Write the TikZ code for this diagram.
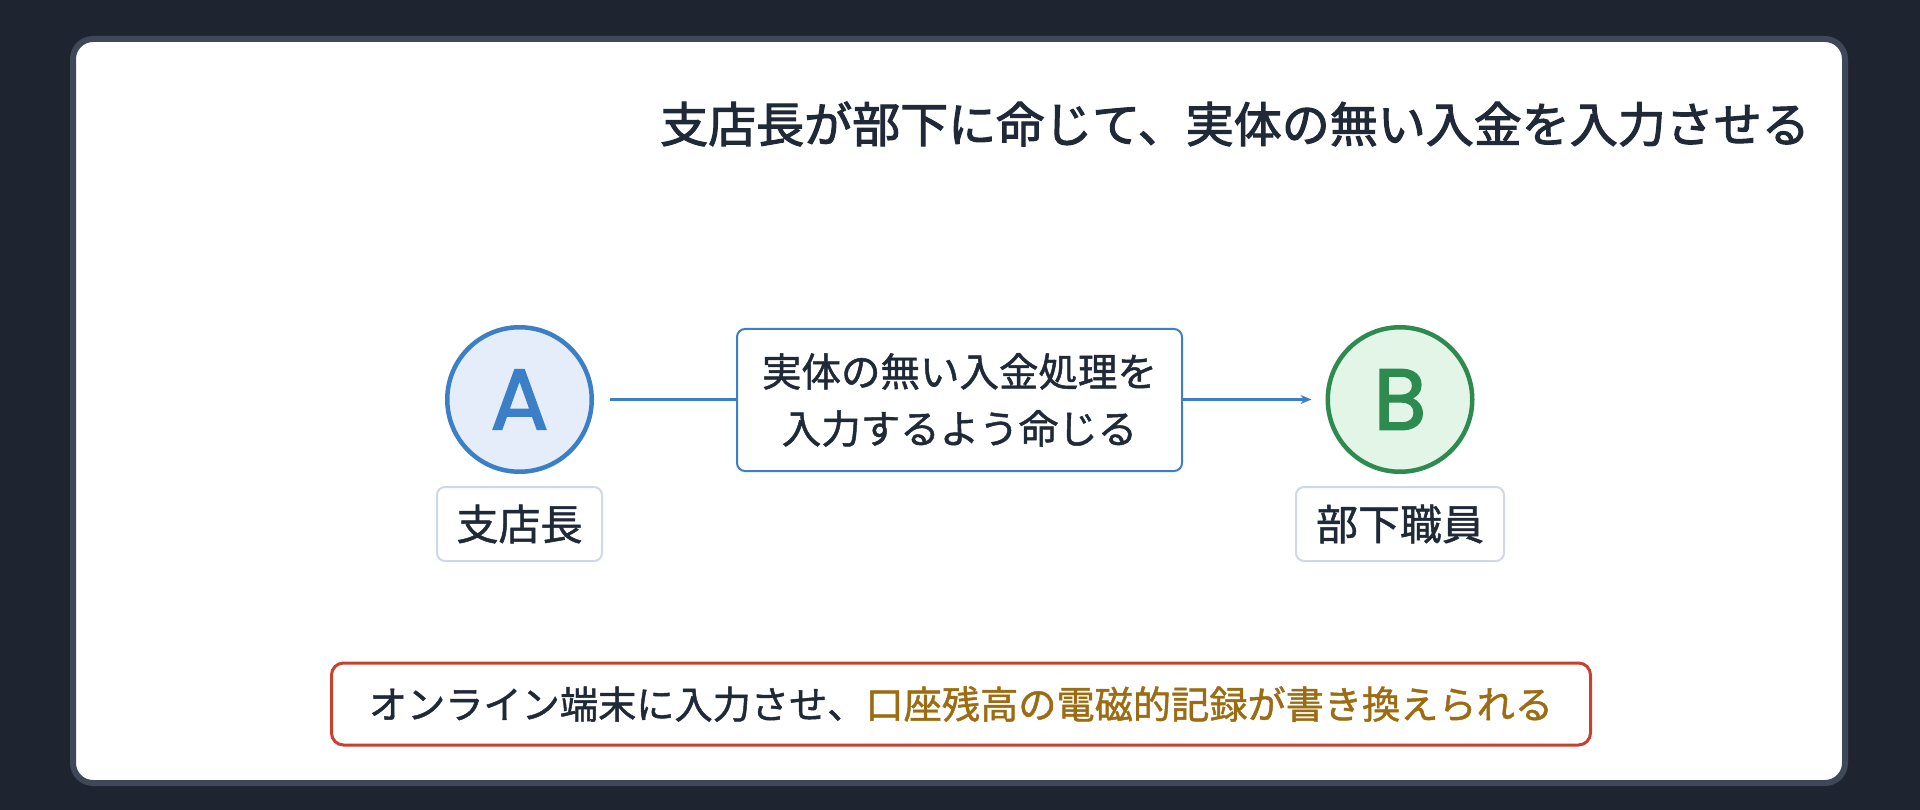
\documentclass[tikz,border=0pt]{standalone}
\usepackage{fontspec}
\setmainfont{Noto Sans CJK JP}[FakeBold=1]
\newfontfamily\jpmid{Noto Sans CJK JP}[FakeBold=1.2]
\newfontfamily\jptitle{Noto Sans CJK JP}[FakeBold=2.2]
\newfontfamily\letterfont{Poppins}[FakeBold=2]
\usetikzlibrary{arrows.meta}
\definecolor{bgdark}{HTML}{1E2430}
\definecolor{cardedge}{HTML}{3E4858}
\definecolor{ink}{HTML}{1F2937}
\definecolor{ablue}{HTML}{3B80C6}
\definecolor{afill}{HTML}{E4EDF9}
\definecolor{bgreen}{HTML}{2E8B50}
\definecolor{bfill}{HTML}{E3F5E7}
\definecolor{lbledge}{HTML}{CFD8E3}
\definecolor{noteedge}{HTML}{C9402C}
\definecolor{brown}{HTML}{9C6C12}
\tikzset{
  person/.style={circle,line width=4.5pt,minimum size=144.5pt,inner sep=0pt,font=\letterfont\fontsize{86}{86}\selectfont},
  namebox/.style={draw=lbledge,line width=2pt,fill=white,rounded corners=8pt,minimum height=74pt,inner sep=0pt,font=\jpmid\fontsize{42}{42}\selectfont,text=ink},
  msgbox/.style={draw=ablue,line width=2pt,fill=white,rounded corners=8pt,minimum width=445pt,minimum height=142pt,inner sep=0pt,align=center,font=\jpmid\fontsize{39.5}{57}\selectfont,text=ink},
  notebox/.style={draw=noteedge,line width=3pt,fill=white,rounded corners=12pt,minimum width=1259pt,minimum height=82pt,inner sep=0pt,font=\jpmid\fontsize{38.2}{38.2}\selectfont,text=ink},
  arr/.style={draw=ablue,line width=3pt,-{Stealth[length=11pt,width=9pt]}}
}
\begin{document}
\begin{tikzpicture}[x=1pt,y=-1pt]
\useasboundingbox (0,0) rectangle (1920,810);
\fill[bgdark] (0,0) rectangle (1920,810);
\node[draw=cardedge,fill=white,line width=6pt,rounded corners=20pt,minimum width=1772pt,minimum height=744pt,inner sep=0pt] (card) at (959,411) {};
\node[anchor=east,inner sep=0pt,text=ink,font=\jptitle\fontsize{48}{48}\selectfont] (title) at (1810,124) {支店長が部下に命じて、実体の無い入金を入力させる};
\node[person,draw=ablue,fill=afill,text=ablue] (A) at (519.5,399.5) {A};
\node[person,draw=bgreen,fill=bfill,text=bgreen] (B) at (1400,399.5) {B};
\node[namebox,minimum width=165pt] (Alabel) at (519.5,524) {支店長};
\node[namebox,minimum width=208pt] (Blabel) at (1400,524) {部下職員};
\draw[arr] ([xshift=16pt]A.east) -- ([xshift=-14pt]B.west);
\node[msgbox] (msg) at (959.5,400) {実体の無い入金処理を\\入力するよう命じる};
\node[notebox] (note) at (961,704) {オンライン端末に入力させ、\textcolor{brown}{口座残高の電磁的記録が書き換えられる}};
\end{tikzpicture}
\end{document}
